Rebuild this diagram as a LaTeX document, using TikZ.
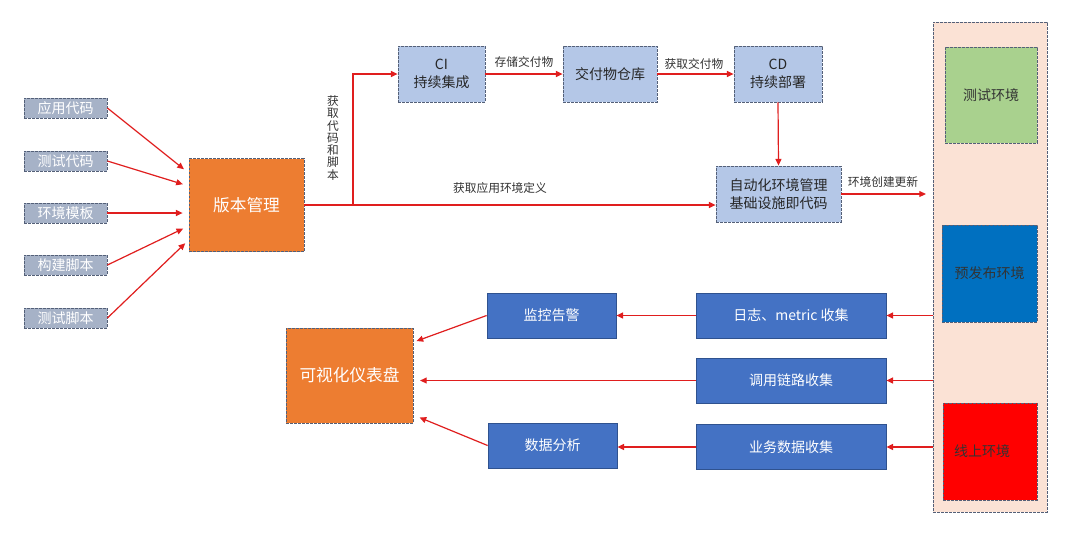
\documentclass[tikz,border=0pt]{standalone}
\usepackage{fontspec}
\setmainfont{Noto Sans CJK SC}
\usetikzlibrary{positioning,arrows.meta,calc}
\definecolor{srcgrey}{RGB}{166,178,199}
\definecolor{boxline}{RGB}{84,96,120}
\definecolor{vcsorange}{RGB}{237,125,49}
\definecolor{pipeblue}{RGB}{180,199,231}
\definecolor{opsblue}{RGB}{68,114,196}
\definecolor{opsblueline}{RGB}{47,82,143}
\definecolor{envpeach}{RGB}{251,226,213}
\definecolor{envgreen}{RGB}{169,209,142}
\definecolor{envblue}{RGB}{0,112,192}
\definecolor{envred}{RGB}{255,0,0}
\definecolor{flowred}{RGB}{224,30,30}
\tikzset{
  dashedbox/.style={draw=boxline,dash pattern=on 2pt off 1pt,line width=0.6pt,inner sep=0pt,align=center},
  srcbox/.style={dashedbox,fill=srcgrey,text=white,minimum width=62.25pt,minimum height=15pt,font=\fontsize{10.5}{12}\selectfont},
  vcsbox/.style={dashedbox,fill=vcsorange,text=white,font=\fontsize{12.5}{15}\selectfont},
  cibox/.style={dashedbox,fill=pipeblue,text=black!85,minimum height=42pt,font=\fontsize{10.5}{13.5}\selectfont},
  opsbox/.style={draw=opsblueline,line width=0.6pt,fill=opsblue,text=white,inner sep=0pt,minimum height=33.75pt,font=\fontsize{10.5}{12}\selectfont},
  envbox/.style={dashedbox,text=black!80,font=\fontsize{10.5}{12}\selectfont},
  flow/.style={-{Triangle[length=5pt,width=4.5pt]},line width=0.9pt,draw=flowred},
  flowlabel/.style={font=\fontsize{8.8}{9.2}\selectfont,text=black!80,inner sep=0pt,align=center},
}
\begin{document}
\begin{tikzpicture}[x=0.75pt,y=-0.75pt]
  \fill[white] (0,0) rectangle (1080,533);
  \useasboundingbox (0,0) rectangle (1080,533);
  % sources
  \node[srcbox] (in1) at (65.5,108) {应用代码};
  \node[srcbox] (in2) at (65.5,161) {测试代码};
  \node[srcbox] (in3) at (65.5,213) {环境模板};
  \node[srcbox] (in4) at (65.5,265) {构建脚本};
  \node[srcbox] (in5) at (65.5,318) {测试脚本};
  \node[vcsbox,minimum width=86.25pt,minimum height=69.75pt] (vcs) at (246.5,205) {版本管理};
  % pipeline
  \node[cibox,minimum width=65.25pt] (ci) at (441.5,74) {CI\\持续集成};
  \node[cibox,minimum width=70.5pt] (repo) at (610,74) {交付物仓库};
  \node[cibox,minimum width=66pt] (cd) at (778,74) {CD\\持续部署};
  \node[cibox,minimum width=93.75pt] (iac) at (778.5,194) {自动化环境管理\\基础设施即代码};
  % environments
  \node[dashedbox,fill=envpeach,minimum width=85.5pt,minimum height=367.5pt] (panel) at (990,267) {};
  \node[envbox,fill=envgreen,minimum width=69pt,minimum height=72pt] (testenv) at (991,95) {测试环境};
  \node[envbox,fill=envblue,minimum width=71.25pt,minimum height=72.75pt] (preenv) at (989.5,273.5) {预发布环境};
  \node[envbox,fill=envred,minimum width=70.5pt,minimum height=72.75pt] (prodenv) at (990,451.5) {\hspace*{-12pt}线上环境};
  % monitoring
  \node[opsbox,minimum width=142.5pt] (logc) at (791,315.5) {日志、metric 收集};
  \node[opsbox,minimum width=142.5pt] (tracec) at (791,380.5) {调用链路收集};
  \node[opsbox,minimum width=142.5pt] (bizc) at (791,447) {业务数据收集};
  \node[opsbox,minimum width=96.75pt] (alert) at (551.5,315.5) {监控告警};
  \node[opsbox,minimum width=96.75pt] (analysis) at (552.5,445.5) {数据分析};
  \node[vcsbox,minimum width=95.25pt,minimum height=71.25pt] (dash) at (349.5,375.5) {可视化仪表盘};
  % labels
  \node[flowlabel] (lblcode) at (333,138) {获\\取\\代\\码\\和\\脚\\本};
  \node[flowlabel] (lblenvdef) at (500,188) {获取应用环境定义};
  \node[flowlabel] (lblstore) at (524,62) {存储交付物};
  \node[flowlabel] (lblfetch) at (694,64) {获取交付物};
  \node[flowlabel] (lblupdate) at (883,182) {环境创建更新};
  \coordinate (br) at (353,205);
  % connectors
  \draw[flow,shorten >=4.5pt] (in1.east) -- ([yshift=24pt]vcs.west);
  \draw[flow,shorten >=4.5pt] (in2.east) -- ([yshift=14.25pt]vcs.west);
  \draw[flow,shorten >=4.5pt] (in3.east) -- (in3.east -| vcs.west);
  \draw[flow,shorten >=4.5pt] (in4.east) -- ([yshift=-15.75pt]vcs.west);
  \draw[flow,shorten >=3.5pt] (in5.east) -- ([yshift=-26.25pt]vcs.west);
  \draw[flow] (vcs.east) -- (vcs.east -| iac.west);
  \draw[flow] (br) |- (ci.west);
  \draw[flow] (ci.east) -- (repo.west);
  \draw[flow] (repo.east) -- (cd.west);
  \draw[flow] (cd.south) -- (iac.north);
  \draw[flow,shorten >=5pt] (iac.east) -- (iac.east -| panel.west);
  \draw[flow] (panel.west |- logc) -- (logc.east);
  \draw[flow] (panel.west |- tracec) -- (tracec.east);
  \draw[flow] (panel.west |- bizc) -- (bizc.east);
  \draw[flow] (logc.west) -- (alert.east);
  \draw[flow] (bizc.west) -- (bizc.west -| analysis.east);
  \draw[flow,shorten >=5pt] (tracec.west) -- (tracec.west -| dash.east);
  \draw[flow,shorten >=2.5pt] (alert.west) -- ([yshift=25pt]dash.east);
  \draw[flow,shorten >=5pt] (analysis.west) -- ([yshift=-29.6pt]dash.east);
\end{tikzpicture}
\end{document}
